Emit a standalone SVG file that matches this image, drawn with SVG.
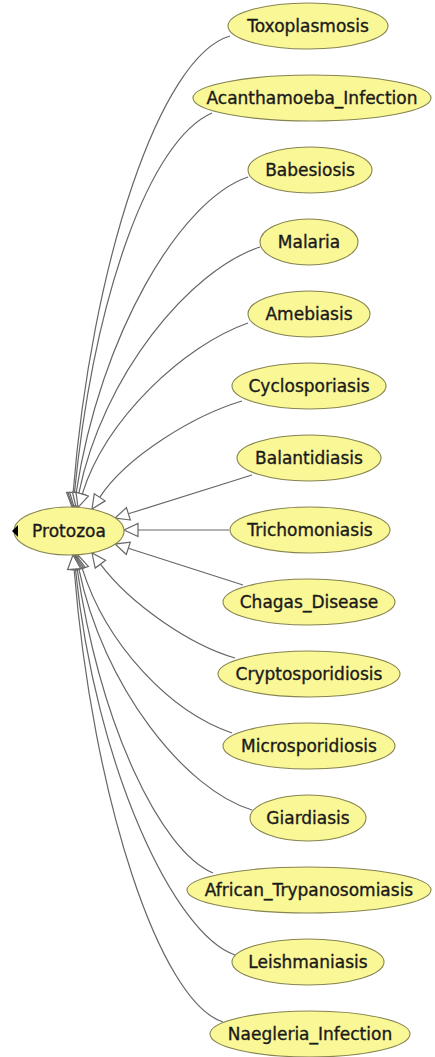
<svg xmlns="http://www.w3.org/2000/svg" width="435" height="1057" viewBox="0 0 435 1057">
<style>
.n ellipse{fill:#faf796;stroke:#86844f;stroke-width:1.1}
.n text{font-family:"DejaVu Sans","Liberation Sans",sans-serif;font-size:17px;fill:#1a1a1a;stroke:#1a1a1a;stroke-width:0.35;text-anchor:middle}
#edges path{fill:none;stroke:#666;stroke-width:1.2;marker-end:url(#tri)}
</style>
<defs>
<marker id="tri" viewBox="-1 -8 17 16" refX="0" refY="0" markerWidth="17" markerHeight="16" markerUnits="userSpaceOnUse" orient="auto">
<polygon points="0,-6.5 14,0 0,6.5" fill="#fff" stroke="#666" stroke-width="1.2"/>
</marker>
</defs>
<rect width="435" height="1057" fill="#fff"/>
<g id="edges">
<path d="M230,36 C160,56 91.5,263.7 73.1,493"/>
<path d="M212,113 C150,140 94.4,294 74.4,493.1"/>
<path d="M248,177 C180,200 100.1,335 76.1,493.2"/>
<path d="M260,247 C190,270 102.8,375 78.8,493.3"/>
<path d="M248,323 C185,345 106.2,417.8 82.2,494.1"/>
<path d="M242,401 C195,415 127.2,455.5 99.7,497.3"/>
<path d="M252,475 L128.4,513.8"/>
<path d="M229,530 L138,530"/>
<path d="M243,585 L128.3,548.3"/>
<path d="M235,658 C190,645 130.4,604.2 100.4,564.2"/>
<path d="M232,733 C170,712 106.2,644.7 82.2,568.4"/>
<path d="M252,810 C185,790 102.8,686.3 78.8,568.7"/>
<path d="M213,873 C160,850 101.1,727 77.1,568.8"/>
<path d="M235,955 C175,935 95.4,767.9 75.4,568.9"/>
<path d="M223,1022 C160,1002 92.5,798.3 74.1,569"/>
</g>
<g id="Protozoa" class="n"><ellipse cx="69" cy="531" rx="55" ry="24"/><text x="69" y="537">Protozoa</text><polygon points="12,531 18,525 18,537" fill="#000"/></g>
<g id="Toxoplasmosis" class="n"><ellipse cx="308" cy="26" rx="80" ry="23"/><text x="308" y="32">Toxoplasmosis</text></g>
<g id="Acanthamoeba_Infection" class="n"><ellipse cx="312" cy="98" rx="119" ry="23"/><text x="312" y="104">Acanthamoeba_Infection</text></g>
<g id="Babesiosis" class="n"><ellipse cx="310" cy="170" rx="62" ry="23"/><text x="310" y="176">Babesiosis</text></g>
<g id="Malaria" class="n"><ellipse cx="309" cy="242" rx="49" ry="23"/><text x="309" y="248">Malaria</text></g>
<g id="Amebiasis" class="n"><ellipse cx="309" cy="314" rx="61" ry="23"/><text x="309" y="320">Amebiasis</text></g>
<g id="Cyclosporiasis" class="n"><ellipse cx="309" cy="386" rx="77" ry="23"/><text x="309" y="392">Cyclosporiasis</text></g>
<g id="Balantidiasis" class="n"><ellipse cx="309" cy="458" rx="72" ry="23"/><text x="309" y="464">Balantidiasis</text></g>
<g id="Trichomoniasis" class="n"><ellipse cx="310" cy="530" rx="80" ry="23"/><text x="310" y="536">Trichomoniasis</text></g>
<g id="Chagas_Disease" class="n"><ellipse cx="309" cy="602" rx="86" ry="23"/><text x="309" y="608">Chagas_Disease</text></g>
<g id="Cryptosporidiosis" class="n"><ellipse cx="309" cy="674" rx="91" ry="23"/><text x="309" y="680">Cryptosporidiosis</text></g>
<g id="Microsporidiosis" class="n"><ellipse cx="309" cy="746" rx="86" ry="23"/><text x="309" y="752">Microsporidiosis</text></g>
<g id="Giardiasis" class="n"><ellipse cx="308" cy="818" rx="58" ry="23"/><text x="308" y="824">Giardiasis</text></g>
<g id="African_Trypanosomiasis" class="n"><ellipse cx="309" cy="890" rx="122" ry="23"/><text x="309" y="896">African_Trypanosomiasis</text></g>
<g id="Leishmaniasis" class="n"><ellipse cx="308" cy="962" rx="76" ry="23"/><text x="308" y="968">Leishmaniasis</text></g>
<g id="Naegleria_Infection" class="n"><ellipse cx="310" cy="1034" rx="100" ry="23"/><text x="310" y="1040">Naegleria_Infection</text></g>
</svg>
